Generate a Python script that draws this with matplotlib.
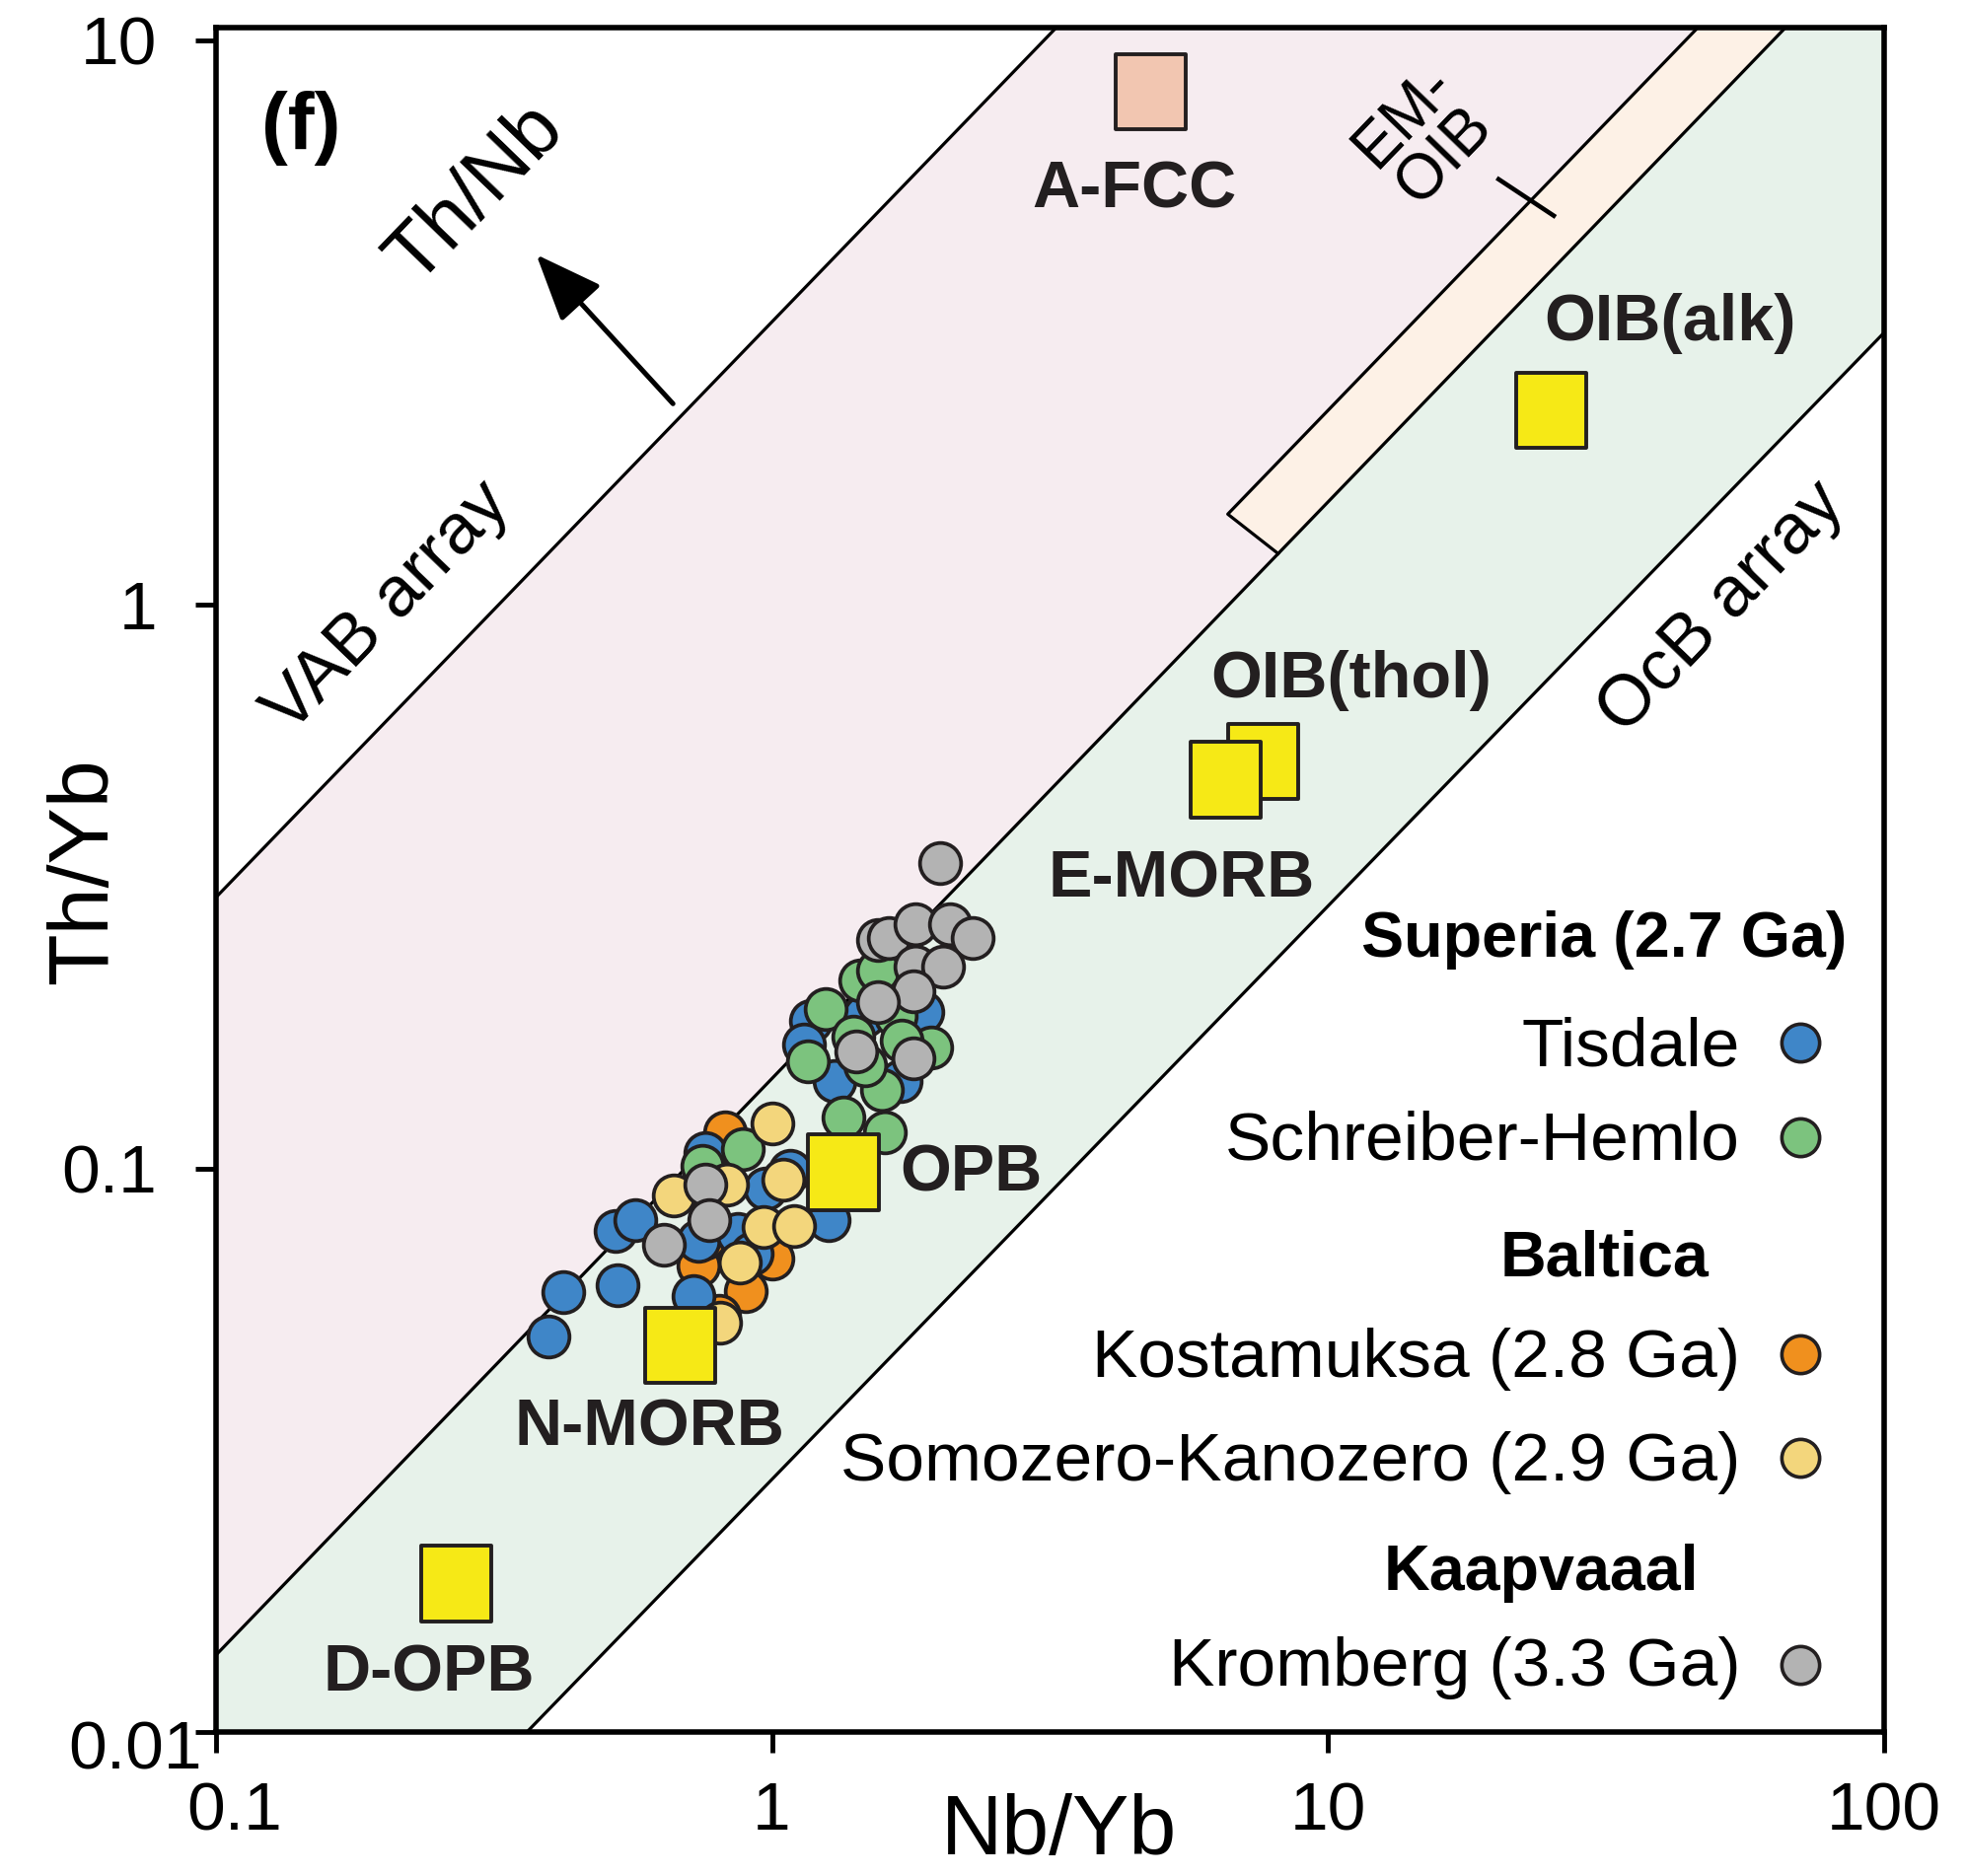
import numpy as np
import matplotlib
matplotlib.use("Agg")
import matplotlib.pyplot as plt
from matplotlib.path import Path
from matplotlib.patches import Polygon
import matplotlib.transforms as mtransforms

plt.rcParams['font.family'] = ['Liberation Sans', 'DejaVu Sans']

# ---------------- data ----------------
# Superia (2.7 Ga)
tisdale_x = [0.397, 0.421, 0.528, 0.524, 0.568, 0.723, 1.177, 1.143, 1.294, 1.707,
             1.864, 1.465, 1.266, 0.738, 0.867, 0.974, 1.079, 0.760, 0.920]
tisdale_y = [0.0504, 0.0603, 0.0620, 0.0775, 0.0810, 0.0594, 0.1824, 0.1661, 0.1428, 0.1428,
             0.1891, 0.1864, 0.0810, 0.0743, 0.0764, 0.0921, 0.0990, 0.1063, 0.0706]
schreiber_x = [1.342, 1.598, 0.886, 1.444, 1.248, 1.932, 1.578, 1.162, 1.671, 1.554,
               0.749, 1.402, 1.714, 1.468]
schreiber_y = [0.1229, 0.1160, 0.1080, 0.2153, 0.1918, 0.1637, 0.1377, 0.1546, 0.1864, 0.2247,
               0.1010, 0.1710, 0.1685, 0.1521]
# Baltica
kostamuksa_x = [0.824, 1.003, 0.899, 0.738, 0.760, 0.804]
kostamuksa_y = [0.1160, 0.0691, 0.0607, 0.0672, 0.0753, 0.0547]
somozero_x = [1.003, 0.667, 0.830, 1.048, 0.967, 1.094, 0.874, 0.806]
somozero_y = [0.1202, 0.0895, 0.0935, 0.0955, 0.0786, 0.0792, 0.0681, 0.0533]
# Kaapvaal
kromberg_x = [2.01, 1.55, 1.62, 1.81, 2.09, 2.30, 1.81, 2.03, 1.80, 1.55, 1.42, 1.80,
              0.76, 0.77, 0.64]
kromberg_y = [0.348, 0.254, 0.256, 0.271, 0.271, 0.256, 0.228, 0.228, 0.206, 0.197,
              0.161, 0.157, 0.0935, 0.081, 0.0732]

# reference compositions
ref_names = ['A-FCC', 'OIB(alk)', 'OIB(thol)', 'E-MORB', 'OPB', 'N-MORB', 'D-OPB']
ref_x = [4.79, 25.2, 7.64, 6.54, 1.344, 0.685, 0.2706]
ref_y = [8.11, 2.21, 0.527, 0.489, 0.0985, 0.0486, 0.01838]
ref_label_x = [4.48, 41.2, 10.98, 5.45, 2.281, 0.6017, 0.2415]
ref_label_y = [5.41, 3.146, 0.732, 0.3245, 0.0975, 0.0345, 0.01266]

# array boundaries (Nb/Yb, Th/Yb end points)
X_MIN, X_MAX = 0.1, 100
Y_MIN, Y_MAX = 0.01, 10.53
vab_upper = ([0.1, 3.245], [0.302, Y_MAX])
mantle_upper = ([0.1, 66.4], [0.0137, Y_MAX])
mantle_lower = ([0.362, 100], [0.01, 3.035])
emoib_x = [6.60, 46.2, 66.4, 8.13]
emoib_y = [1.445, Y_MAX, Y_MAX, 1.23]

# ---------------- figure ----------------
fig = plt.figure(figsize=(19.93, 19.02), dpi=100)
ax = fig.add_axes([0.1097, 0.0765, 0.8488, 0.9088])
ax.set_xscale('log')
ax.set_yscale('log')
ax.set_xlim(X_MIN, X_MAX)
ax.set_ylim(Y_MIN, Y_MAX)

PINK = '#F6ECF0'
CREAM = '#FDF1E6'
GREEN = '#E7F2EA'
INK = '#231F20'

# VAB field (pink)
ax.add_patch(Polygon([(vab_upper[0][0], vab_upper[1][0]), (vab_upper[0][1], vab_upper[1][1]),
                      (mantle_upper[0][1], mantle_upper[1][1]), (mantle_upper[0][0], mantle_upper[1][0])],
                     closed=True, facecolor=PINK, edgecolor='none', zorder=0))
# MORB-OIB array (green)
ax.add_patch(Polygon([(mantle_upper[0][0], mantle_upper[1][0]), (mantle_upper[0][1], mantle_upper[1][1]),
                      (X_MAX, Y_MAX), (mantle_lower[0][1], mantle_lower[1][1]),
                      (mantle_lower[0][0], mantle_lower[1][0]), (X_MIN, Y_MIN)],
                     closed=True, facecolor=GREEN, edgecolor='none', zorder=0))
# EM-OIB band
ax.add_patch(Polygon(list(zip(emoib_x, emoib_y)), closed=True, facecolor=CREAM,
                     edgecolor='none', zorder=1))

lw_b = 2.3
for xs, ys in (vab_upper, mantle_upper, mantle_lower):
    ax.plot(xs, ys, color='black', lw=lw_b, zorder=2, solid_capstyle='butt')
ax.plot([emoib_x[3], emoib_x[0], emoib_x[1]], [emoib_y[3], emoib_y[0], emoib_y[1]],
        color='black', lw=lw_b, zorder=2)
# tick across the EM-OIB band edge
ax.plot([20.25, 25.44], [5.67, 4.886], color='black', lw=3.3, zorder=2)

# samples
ms = 900
elw = 2.7
groups = [
    (kostamuksa_x, kostamuksa_y, '#F0901E'),
    (tisdale_x, tisdale_y, '#3F86C8'),
    (schreiber_x, schreiber_y, '#7CC37E'),
    (somozero_x, somozero_y, '#F3D67C'),
    (kromberg_x, kromberg_y, '#B3B3B3'),
]
for gx, gy, col in groups:
    ax.scatter(gx, gy, s=ms, c=col, edgecolors=INK, linewidths=elw, zorder=4)

# reference squares
rect = Path([(-0.466, -0.5), (0.466, -0.5), (0.466, 0.5), (-0.466, 0.5), (-0.466, -0.5)],
            [Path.MOVETO, Path.LINETO, Path.LINETO, Path.LINETO, Path.CLOSEPOLY])
ref_colors = ['#F2C6B1'] + ['#F6E916'] * 6
ax.scatter(ref_x, ref_y, s=55 ** 2, marker=rect, c=ref_colors, edgecolors=INK,
           linewidths=2.8, zorder=5)
for name, lx, ly in zip(ref_names, ref_label_x, ref_label_y):
    ax.text(lx, ly, name, fontsize=48, fontweight='bold', color=INK,
            ha='center', va='center', zorder=6)

# field labels
ax.text(0.2045, 0.985, 'VAB array', fontsize=52, rotation=46, ha='center', va='center', zorder=6)
ax.text(51.2, 0.985, 'OcB array', fontsize=52, rotation=46, ha='center', va='center', zorder=6)
ax.text(0.294, 5.33, 'Th/Nb', fontsize=58, rotation=46, ha='center', va='center', zorder=6)
ax.text(14.9, 6.75, 'EM-\nOIB', fontsize=46, rotation=46, ha='center', va='center',
        linespacing=0.95, zorder=6)
ax.annotate('', xy=(0.377, 4.169), xytext=(0.664, 2.268),
            arrowprops=dict(arrowstyle='-|>,head_length=2.1,head_width=0.85',
                            mutation_scale=20, lw=3.6, color='black',
                            shrinkA=0, shrinkB=0), zorder=6)
ax.text(0.0511, 0.9412, '(f)', transform=ax.transAxes, fontsize=58, fontweight='bold',
        ha='center', va='center', zorder=6)

# legend
leg_x_text = 0.9136
leg_x_mark = 0.9497
headers = [('Superia (2.7 Ga)', 0.9775, 0.4551), ('Baltica', 0.8948, 0.2676),
           ('Kaapvaaal', 0.8888, 0.0838)]
for txt, hx, hy in headers:
    ax.text(hx, hy, txt, transform=ax.transAxes, fontsize=46.5, fontweight='bold',
            ha='right', va='baseline', zorder=6)
entries = [('Tisdale', 0.3912, 0.4044, '#3F86C8'),
           ('Schreiber-Hemlo', 0.3360, 0.3493, '#7CC37E'),
           ('Kostamuksa (2.8 Ga)', 0.2088, 0.2221, '#F0901E'),
           ('Somozero-Kanozero (2.9 Ga)', 0.1478, 0.1610, '#F3D67C'),
           ('Kromberg (3.3 Ga)', 0.0272, 0.0397, '#B3B3B3')]
for txt, ty, my, col in entries:
    ax.text(leg_x_text, ty, txt, transform=ax.transAxes, fontsize=50,
            ha='right', va='baseline', zorder=6)
    ax.scatter([leg_x_mark], [my], transform=ax.transAxes, s=760, c=col,
               edgecolors=INK, linewidths=2.6, zorder=6, clip_on=False)

# axes styling
for sp in ax.spines.values():
    sp.set_linewidth(4)
    sp.set_zorder(7)
ax.xaxis.set_major_locator(matplotlib.ticker.FixedLocator([0.1, 1, 10, 100]))
ax.yaxis.set_major_locator(matplotlib.ticker.FixedLocator([0.01, 0.1, 1, 10]))
ax.xaxis.set_minor_locator(matplotlib.ticker.NullLocator())
ax.yaxis.set_minor_locator(matplotlib.ticker.NullLocator())
ax.set_xticklabels(['0.1', '1', '10', '100'])
ax.set_yticklabels(['0.01', '0.1', '1', '10'])
ax.tick_params(axis='both', direction='out', length=15, width=3.5, labelsize=50)
ax.tick_params(axis='x', pad=20)
ax.tick_params(axis='y', pad=28)

# nudge the corner labels the way they sit on the printed diagram
ylab0 = ax.get_yticklabels()[0]
ylab0.set_transform(ylab0.get_transform() +
                    mtransforms.ScaledTranslation(33 / 72, -9 / 72, fig.dpi_scale_trans))
xlab0 = ax.get_xticklabels()[0]
xlab0.set_transform(xlab0.get_transform() +
                    mtransforms.ScaledTranslation(14 / 72, 0, fig.dpi_scale_trans))

ax.set_xlabel('Nb/Yb', fontsize=62)
ax.set_ylabel('Th/Yb', fontsize=62)
ax.xaxis.set_label_coords(0.5056, -0.0588)
ax.xaxis.label.set_va('center')
ax.yaxis.set_label_coords(-0.0781, 0.5051)
ax.yaxis.label.set_va('center')

fig.savefig('out.png', dpi=100)
